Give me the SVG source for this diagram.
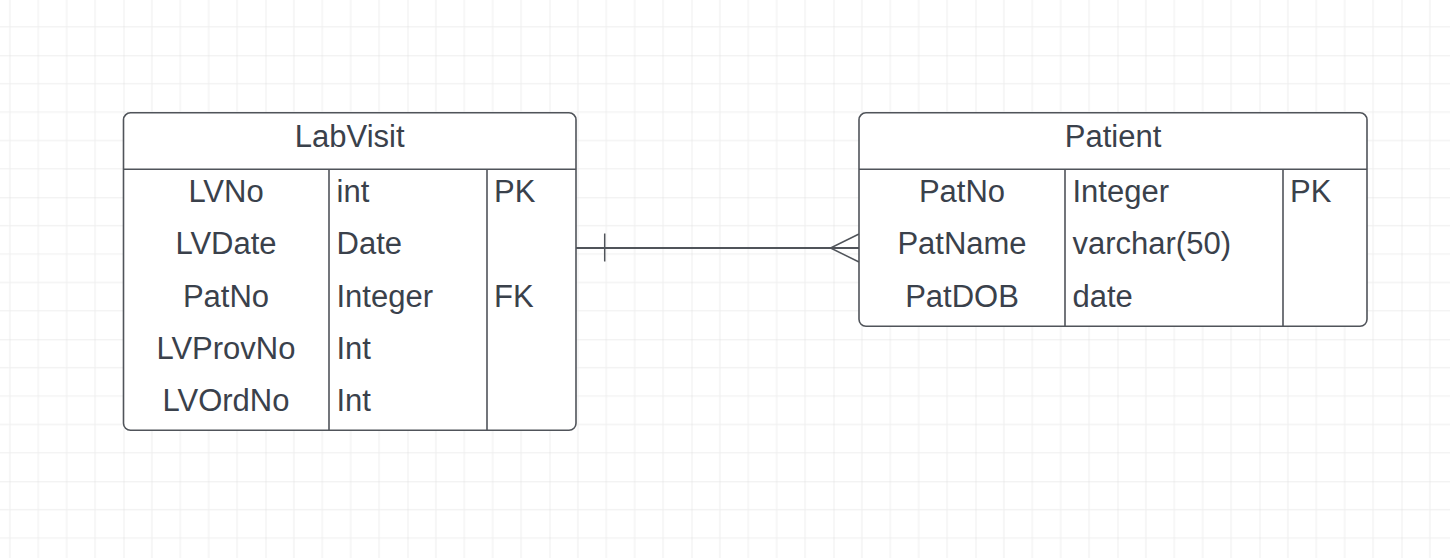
<svg xmlns="http://www.w3.org/2000/svg" width="1450" height="558" viewBox="0 0 1450 558">
<defs>
<pattern id="grid" patternUnits="userSpaceOnUse" x="-18.5" y="-86.7" width="142" height="142">
<path d="M28.4 0V142M56.8 0V142M85.2 0V142M113.6 0V142M0 28.4H142M0 56.8H142M0 85.2H142M0 113.6H142" stroke="#eeeeee" stroke-width="1" fill="none"/>
<path d="M0 0V142M0 0H142" stroke="#dedede" stroke-width="1" fill="none"/>
</pattern>
</defs>
<style>
.box{fill:#ffffff;stroke:#50545a;stroke-width:1.6}
.ln{stroke:#50545a;stroke-width:1.6;fill:none}
.t{font-family:"Liberation Sans",Arial,sans-serif;font-size:31px;fill:#3a414b}
.c{text-anchor:middle}
.conn{stroke:#50545a;stroke-width:2;fill:none}
.thin{stroke:#50545a;stroke-width:1.5;fill:none}
</style>
<rect width="1450" height="558" fill="#ffffff"/>
<rect width="1450" height="558" fill="url(#grid)"/>
<g id="connectors">
<path class="conn" d="M576 248H859"/>
<path class="thin" d="M604.7 233.5V261.5"/>
<path class="thin" d="M859 234L830.5 248L859 262"/>
</g>
<g id="LabVisit">
<rect class="box" x="123.5" y="112.8" width="452.5" height="317.5" rx="7"/>
<path class="ln" d="M123.5 169.3H576M329 169.3V430.3M487 169.3V430.3"/>
<text class="t c" x="349.7" y="146.7">LabVisit</text>
<text class="t c" x="226" y="202">LVNo</text>
<text class="t c" x="226" y="254">LVDate</text>
<text class="t c" x="226" y="306.5">PatNo</text>
<text class="t c" x="226" y="359">LVProvNo</text>
<text class="t c" x="226" y="411">LVOrdNo</text>
<text class="t" x="336.5" y="202">int</text>
<text class="t" x="336.5" y="254">Date</text>
<text class="t" x="336.5" y="306.5">Integer</text>
<text class="t" x="336.5" y="359">Int</text>
<text class="t" x="336.5" y="411">Int</text>
<text class="t" x="494" y="202">PK</text>
<text class="t" x="494" y="306.5">FK</text>
</g>
<g id="Patient">
<rect class="box" x="859" y="112.8" width="508" height="213.5" rx="7"/>
<path class="ln" d="M859 169.3H1367M1065 169.3V326.3M1283 169.3V326.3"/>
<text class="t c" x="1113" y="146.7">Patient</text>
<text class="t c" x="962" y="202">PatNo</text>
<text class="t c" x="962" y="254">PatName</text>
<text class="t c" x="962" y="306.5">PatDOB</text>
<text class="t" x="1072.5" y="202">Integer</text>
<text class="t" x="1072.5" y="254">varchar(50)</text>
<text class="t" x="1072.5" y="306.5">date</text>
<text class="t" x="1290" y="202">PK</text>
</g>
</svg>
